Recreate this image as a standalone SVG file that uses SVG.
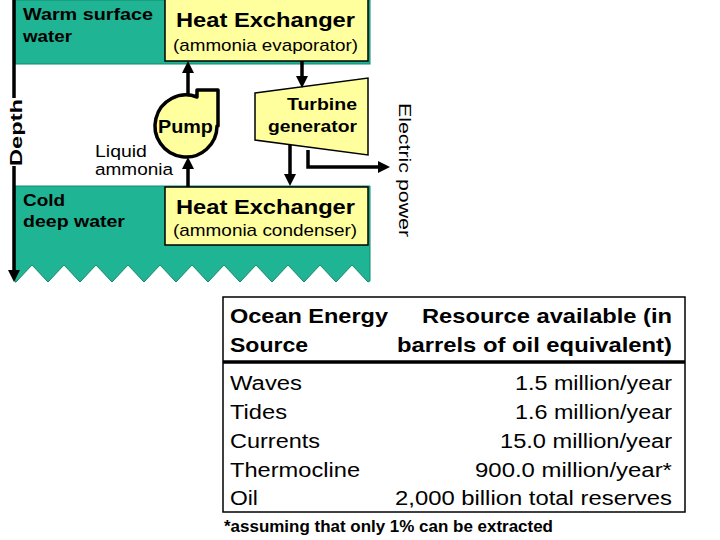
<svg xmlns="http://www.w3.org/2000/svg" width="720" height="540" viewBox="0 0 720 540">
<style>
text{font-family:"Liberation Sans",Arial,sans-serif;fill:#000}
.b{font-weight:bold}
.water{fill:#1FB493;stroke:#138a6e;stroke-width:1}
.box{fill:#FFFF9E;stroke:#000;stroke-width:1.5}
.ln{fill:none;stroke:#000;stroke-width:3.5}
.tbl{fill:#fff;stroke:#000;stroke-width:1.5}
</style>
<defs>
<marker id="ah" viewBox="0 0 12 12" markerWidth="12" markerHeight="12" refX="4" refY="6" orient="auto" markerUnits="userSpaceOnUse">
<path d="M0,0 L12,6 L0,12 z" fill="#000"/>
</marker>
</defs>
<rect width="720" height="540" fill="#fff"/>

<g id="warm-water">
<rect class="water" x="15" y="0" width="355" height="64"/>
<text class="b" font-size="17" transform="translate(23,20) scale(1.18,1)" textLength="110.2" lengthAdjust="spacingAndGlyphs">Warm surface</text>
<text class="b" font-size="17" transform="translate(23,42) scale(1.18,1)" textLength="41.5" lengthAdjust="spacingAndGlyphs">water</text>
</g>

<g id="cold-water">
<path class="water" d="M15,186 H370 V281 L368,282 L352,265 L336,282 L320,265 L304,282 L288,265 L272,282 L256,265 L240,282 L224,265 L208,282 L192,265 L176,282 L160,265 L144,282 L128,265 L112,282 L96,265 L80,282 L64,265 L48,282 L32,265 L16,282 L15,282 Z"/>
<text class="b" font-size="17" transform="translate(23,206) scale(1.18,1)" textLength="35.6" lengthAdjust="spacingAndGlyphs">Cold</text>
<text class="b" font-size="17" transform="translate(23,227) scale(1.18,1)" textLength="86.4" lengthAdjust="spacingAndGlyphs">deep water</text>
</g>

<g id="hx-evaporator">
<rect class="box" x="165" y="-1" width="203" height="62"/>
<text class="b" font-size="20" transform="translate(176,27) scale(1.18,1)" textLength="151.7" lengthAdjust="spacingAndGlyphs">Heat Exchanger</text>
<text font-size="16" transform="translate(173,51) scale(1.18,1)" textLength="156.8" lengthAdjust="spacingAndGlyphs">(ammonia evaporator)</text>
</g>

<g id="hx-condenser">
<rect class="box" x="165" y="187" width="203" height="58"/>
<text class="b" font-size="20" transform="translate(176,214) scale(1.18,1)" textLength="151.7" lengthAdjust="spacingAndGlyphs">Heat Exchanger</text>
<text font-size="16" transform="translate(173,236) scale(1.18,1)" textLength="156" lengthAdjust="spacingAndGlyphs">(ammonia condenser)</text>
</g>

<g id="turbine">
<polygon class="box" points="255,93 368,78 368,155 255,140"/>
<text class="b" font-size="17" transform="translate(287,110) scale(1.18,1)" textLength="59.3" lengthAdjust="spacingAndGlyphs">Turbine</text>
<text class="b" font-size="17" transform="translate(268,132) scale(1.18,1)" textLength="75.4" lengthAdjust="spacingAndGlyphs">generator</text>
</g>

<g id="pump">
<path d="M197,97 L197,90 L218,90 L218,126 L217,126 A31,31 0 1 1 197,97 Z" fill="#FFFF9E" stroke="#000" stroke-width="3.5" stroke-linejoin="round"/>
<text class="b" font-size="18" transform="translate(158,133) scale(1.14,1)" textLength="48.2" lengthAdjust="spacingAndGlyphs">Pump</text>
</g>

<g id="labels">
<text font-size="17" transform="translate(95,157) scale(1.18,1)" textLength="44" lengthAdjust="spacingAndGlyphs">Liquid</text>
<text font-size="17" transform="translate(95,175) scale(1.18,1)" textLength="66.1" lengthAdjust="spacingAndGlyphs">ammonia</text>
<text class="b" font-size="16" transform="translate(22,166) rotate(-90) scale(1.18,1)" textLength="56.8" lengthAdjust="spacingAndGlyphs">Depth</text>
<text font-size="17" transform="translate(399,103) rotate(90) scale(1.18,1)" textLength="113.6" lengthAdjust="spacingAndGlyphs">Electric power</text>
</g>

<g id="connectors">
<line class="ln" x1="14" y1="0" x2="14" y2="98"/>
<line class="ln" x1="14" y1="166" x2="14" y2="274" marker-end="url(#ah)"/>
<line class="ln" x1="188" y1="96" x2="188" y2="69" marker-end="url(#ah)"/>
<line class="ln" x1="302" y1="61" x2="302" y2="80" marker-end="url(#ah)"/>
<line class="ln" x1="188" y1="187" x2="188" y2="165" marker-end="url(#ah)"/>
<line class="ln" x1="290" y1="145" x2="290" y2="178" marker-end="url(#ah)"/>
<path class="ln" d="M308,150 L308,167 L382,167" marker-end="url(#ah)"/>
</g>

<g id="table">
<rect class="tbl" x="223" y="297" width="462" height="215"/>
<line x1="223" y1="362" x2="685" y2="362" stroke="#000" stroke-width="3.5"/>
<text class="b" font-size="20" transform="translate(230,323) scale(1.18,1)" textLength="133.9" lengthAdjust="spacingAndGlyphs">Ocean Energy</text>
<text class="b" font-size="20" transform="translate(230,352) scale(1.18,1)" textLength="66.1" lengthAdjust="spacingAndGlyphs">Source</text>
<text class="b" font-size="20" transform="translate(422,323) scale(1.18,1)" textLength="211.9" lengthAdjust="spacingAndGlyphs">Resource available (in</text>
<text class="b" font-size="20" transform="translate(397,352) scale(1.18,1)" textLength="233" lengthAdjust="spacingAndGlyphs">barrels of oil equivalent)</text>
<text font-size="21" transform="translate(230,390) scale(1.18,1)" textLength="61" lengthAdjust="spacingAndGlyphs">Waves</text>
<text font-size="21" transform="translate(515,390) scale(1.18,1)" textLength="133" lengthAdjust="spacingAndGlyphs">1.5 million/year</text>
<text font-size="21" transform="translate(230,419) scale(1.18,1)" textLength="48.3" lengthAdjust="spacingAndGlyphs">Tides</text>
<text font-size="21" transform="translate(515,419) scale(1.18,1)" textLength="133" lengthAdjust="spacingAndGlyphs">1.6 million/year</text>
<text font-size="21" transform="translate(230,448) scale(1.18,1)" textLength="76.3" lengthAdjust="spacingAndGlyphs">Currents</text>
<text font-size="21" transform="translate(500,448) scale(1.18,1)" textLength="145.8" lengthAdjust="spacingAndGlyphs">15.0 million/year</text>
<text font-size="21" transform="translate(230,477) scale(1.18,1)" textLength="110.2" lengthAdjust="spacingAndGlyphs">Thermocline</text>
<text font-size="21" transform="translate(475,477) scale(1.18,1)" textLength="166.9" lengthAdjust="spacingAndGlyphs">900.0 million/year*</text>
<text font-size="21" transform="translate(230,505) scale(1.18,1)" textLength="23.7" lengthAdjust="spacingAndGlyphs">Oil</text>
<text font-size="21" transform="translate(395,505) scale(1.18,1)" textLength="234.7" lengthAdjust="spacingAndGlyphs">2,000 billion total reserves</text>
</g>

<g id="footnote">
<text class="b" font-size="16" transform="translate(224,532) scale(1.18,1)" textLength="278.8" lengthAdjust="spacingAndGlyphs">*assuming that only 1% can be extracted</text>
</g>
</svg>
